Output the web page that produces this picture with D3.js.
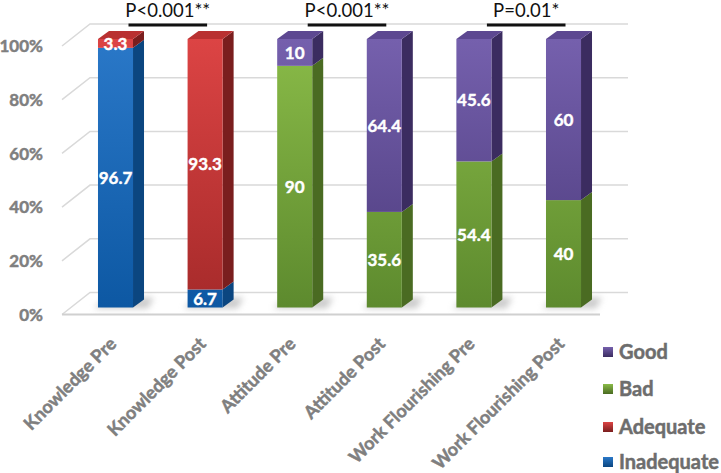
<!DOCTYPE html>
<html>
<head>
<meta charset="utf-8">
<script src="https://cdn.jsdelivr.net/npm/d3@7"></script>
<style>
  body { margin: 0; background: #fff; }
  text { font-family: Lato, "Open Sans", sans-serif; }
</style>
</head>
<body>
<script>
// data (percent of participants)
var categories = ["Knowledge Pre", "Knowledge Post", "Attitude Pre", "Attitude Post",
                  "Work Flourishing Pre", "Work Flourishing Post"];
var seriesNames = ["Inadequate", "Adequate", "Bad", "Good"];
var inadequate = [96.7, 6.7, 0, 0, 0, 0];
var adequate   = [3.3, 93.3, 0, 0, 0, 0];
var bad        = [0, 0, 90, 35.6, 54.4, 40];
var good       = [0, 0, 10, 64.4, 45.6, 60];
var yTicks = [0, 20, 40, 60, 80, 100];
var tickLabels = ["0%", "20%", "40%", "60%", "80%", "100%"];
var legendOrder = ["Good", "Bad", "Adequate", "Inadequate"];
var pFrom  = [0, 2, 4];
var pTo    = [1, 3, 5];
var pTexts = ["P<0.001**", "P<0.001**", "P=0.01*"];

var W = 721, H = 473;
var svg = d3.select("body").append("svg")
    .attr("width", W)
    .attr("height", H);

var colors = {
  Inadequate: { top: "#2a78c8", bot: "#0d58a3", side: "#0b4680", cap: "#1b5fa6" },
  Adequate:   { top: "#dc4444", bot: "#a62a2a", side: "#7a1e1e", cap: "#b93131" },
  Bad:        { top: "#8abb48", bot: "#5d8a2e", side: "#4a6b22", cap: "#6f9b39" },
  Good:       { top: "#7560ad", bot: "#4b3a7b", side: "#3b2c60", cap: "#5d4891" }
};

var x = d3.scaleBand()
    .domain(categories)
    .range([70.7, 608.3])
    .paddingInner(0.609)
    .paddingOuter(0.3045);

var y = d3.scaleLinear()
    .domain([0, 100])
    .range([307.5, 39]);

var bw = x.bandwidth();
var dx = 11, dy = -8;          // bar depth
var wallDx = 28, wallDy = -22; // wall depth
var frontX = 62, backRight = 628;

var defs = svg.append("defs");
seriesNames.forEach(function(s) {
  var g = defs.append("linearGradient")
      .attr("id", "grad-" + s)
      .attr("gradientUnits", "userSpaceOnUse")
      .attr("x1", 0).attr("x2", 0)
      .attr("y1", y(100)).attr("y2", y(0));
  g.append("stop").attr("offset", 0).attr("stop-color", colors[s].top);
  g.append("stop").attr("offset", 1).attr("stop-color", colors[s].bot);
  var lg = defs.append("linearGradient")
      .attr("id", "leg-" + s)
      .attr("x1", 0).attr("x2", 0).attr("y1", 0).attr("y2", 1);
  lg.append("stop").attr("offset", 0).attr("stop-color", colors[s].top);
  lg.append("stop").attr("offset", 1).attr("stop-color", colors[s].side);
});
defs.append("filter").attr("id", "blur")
    .attr("x", "-50%").attr("y", "-50%").attr("width", "200%").attr("height", "200%")
  .append("feGaussianBlur").attr("stdDeviation", 3);

// walls and gridlines
var grid = svg.append("g");
yTicks.forEach(function(t) {
  var yf = y(t) + 7, yb = y(t) + 7 + wallDy;
  grid.append("path")
      .attr("d", "M" + frontX + "," + yf + "L" + (frontX + wallDx) + "," + yb + "L" + backRight + "," + yb)
      .attr("fill", "none")
      .attr("stroke", "#d9d9d9")
      .attr("stroke-width", 1.5);
});
// floor front edge
grid.append("line")
    .attr("x1", frontX).attr("x2", backRight - wallDx)
    .attr("y1", y(0) + 7).attr("y2", y(0) + 7)
    .attr("stroke", "#d0d0d0")
    .attr("stroke-width", 2);

// y axis labels
svg.append("g").selectAll("text")
    .data(yTicks)
    .join("text")
    .attr("x", 43)
    .attr("y", function(d) { return y(d) + 7; })
    .attr("dy", "0.36em")
    .attr("text-anchor", "end")
    .attr("font-size", 17)
    .attr("font-weight", "bold")
    .attr("fill", "#7f7f7f")
    .attr("stroke", "#7f7f7f")
    .attr("stroke-width", 0.5)
    .text(function(d, i) { return tickLabels[i]; });

// stacked data
var rows = categories.map(function(c, i) {
  return { cat: c, Inadequate: inadequate[i], Adequate: adequate[i], Bad: bad[i], Good: good[i] };
});
var stacked = d3.stack().keys(seriesNames)(rows);

// shadows on the floor
svg.append("g").selectAll("path")
    .data(categories)
    .join("path")
    .attr("d", function(c) {
      var x0 = x(c) - 4, x1 = x(c) + bw + dx + 10, yb = y(0);
      return "M" + x0 + "," + (yb + 1) + "L" + (x1 - 6) + "," + (yb + 1) + "L" + x1 + "," + (yb - 10) + "L" + (x0 + 12) + "," + (yb - 10) + "Z";
    })
    .attr("fill", "#9a9a9a")
    .attr("opacity", 0.5)
    .attr("filter", "url(#blur)");

// bars
var segs = [];
categories.forEach(function(c, i) {
  stacked.forEach(function(layer) {
    var d = layer[i];
    var v = d.data[layer.key];
    if (v > 0) segs.push({ cat: c, key: layer.key, y0: d[0], y1: d[1], v: v });
  });
});
var tops = {};
segs.forEach(function(s) { tops[s.cat] = s; });

var bars = svg.append("g");
segs.forEach(function(s) {
  var x0 = x(s.cat), x1 = x0 + bw, ya = y(s.y1), yb = y(s.y0);
  bars.append("path")
      .attr("d", "M" + x1 + "," + yb + "L" + (x1 + dx) + "," + (yb + dy) + "L" + (x1 + dx) + "," + (ya + dy) + "L" + x1 + "," + ya + "Z")
      .attr("fill", colors[s.key].side);
  bars.append("rect")
      .attr("x", x0).attr("y", ya)
      .attr("width", bw).attr("height", yb - ya)
      .attr("fill", "url(#grad-" + s.key + ")");
  if (tops[s.cat] === s) {
    bars.append("path")
        .attr("d", "M" + x0 + "," + ya + "L" + (x0 + dx) + "," + (ya + dy) + "L" + (x1 + dx) + "," + (ya + dy) + "L" + x1 + "," + ya + "Z")
        .attr("fill", colors[s.key].cap);
  }
});

// value labels
svg.append("g").selectAll("text")
    .data(segs)
    .join("text")
    .attr("x", function(d) { return x(d.cat) + bw / 2; })
    .attr("y", function(d) { return y((d.y0 + d.y1) / 2); })
    .attr("dy", "0.36em")
    .attr("text-anchor", "middle")
    .attr("font-size", 17)
    .attr("font-weight", "bold")
    .attr("fill", "#fff")
    .attr("stroke", "#fff")
    .attr("stroke-width", 0.4)
    .text(function(d) { return d.v; });

// category labels
svg.append("g").selectAll("text")
    .data(categories)
    .join("text")
    .attr("transform", function(c) {
      return "translate(" + (x(c) + bw / 2 + 2) + "," + 345 + ") rotate(-45)";
    })
    .attr("text-anchor", "end")
    .attr("font-size", 18)
    .attr("font-weight", "bold")
    .attr("fill", "#7f7f7f")
    .attr("stroke", "#7f7f7f")
    .attr("stroke-width", 0.5)
    .text(function(c) { return c; });

// significance brackets
var sig = svg.append("g");
pTexts.forEach(function(t, i) {
  var xa = x(categories[pFrom[i]]) + bw / 2 + 13;
  var xb = x(categories[pTo[i]]) + bw / 2 + 2;
  sig.append("line")
      .attr("x1", xa).attr("x2", xb)
      .attr("y1", 25).attr("y2", 25)
      .attr("stroke", "#111")
      .attr("stroke-width", 3);
  sig.append("text")
      .attr("x", (xa + xb) / 2)
      .attr("y", 17)
      .attr("text-anchor", "middle")
      .attr("font-size", 18.5)
      .attr("fill", "#111")
      .text(t);
});

// legend
var legend = svg.append("g").attr("transform", "translate(603,0)");
var legY = [352, 389, 427, 462];
legendOrder.forEach(function(s, i) {
  legend.append("rect")
      .attr("x", 0).attr("y", legY[i] - 5)
      .attr("width", 10).attr("height", 10)
      .attr("fill", "url(#leg-" + s + ")");
  legend.append("text")
      .attr("x", 16).attr("y", legY[i])
      .attr("dy", "0.36em")
      .attr("font-size", 20)
      .attr("font-weight", "bold")
      .attr("fill", "#6d6d6d")
      .attr("stroke", "#6d6d6d")
      .attr("stroke-width", 0.5)
      .text(s);
});
</script>
</body>
</html>
